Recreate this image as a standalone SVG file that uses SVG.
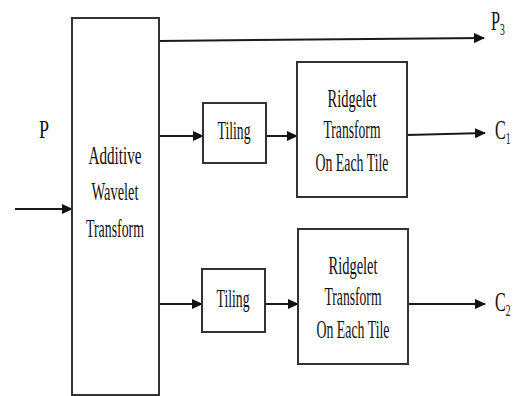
<svg xmlns="http://www.w3.org/2000/svg" width="513" height="396" viewBox="0 0 513 396">
<defs>
<marker id="ah" markerUnits="userSpaceOnUse" markerWidth="11" markerHeight="10" refX="10" refY="5" orient="auto">
<path d="M0,0 L11,5 L0,10 z" fill="#111"/>
</marker>
<style>
.box{fill:#fff;stroke:#333;stroke-width:2}
.wire{stroke:#1a1a1a;stroke-width:2;fill:none;marker-end:url(#ah)}
.t{font-family:"Liberation Serif","Times New Roman",serif;font-size:26px;fill:#111;text-anchor:middle}
.lbl{font-family:"Liberation Serif","Times New Roman",serif;font-size:27px;fill:#111}
.sub{font-size:16px}
</style>
</defs>
<rect width="513" height="396" fill="#fff"/>
<g id="connectors">
<line class="wire" x1="15" y1="209" x2="72" y2="209"/>
<line class="wire" x1="159" y1="41" x2="484" y2="38"/>
<line class="wire" x1="159" y1="136" x2="203" y2="136"/>
<line class="wire" x1="266" y1="136" x2="297" y2="136"/>
<line class="wire" x1="407" y1="135" x2="485" y2="133"/>
<line class="wire" x1="159" y1="304" x2="202" y2="304"/>
<line class="wire" x1="265" y1="304" x2="298" y2="304"/>
<line class="wire" x1="408" y1="304" x2="485" y2="304"/>
</g>
<g id="input-p">
<text class="t" x="44" y="138" font-size="31" textLength="10" lengthAdjust="spacingAndGlyphs">P</text>
</g>
<g id="awt">
<rect class="box" x="72" y="18" width="87" height="377"/>
<text class="t" x="115" y="164" textLength="53" lengthAdjust="spacingAndGlyphs">Additive</text>
<text class="t" x="115" y="200" textLength="47" lengthAdjust="spacingAndGlyphs">Wavelet</text>
<text class="t" x="115" y="237" textLength="58" lengthAdjust="spacingAndGlyphs">Transform</text>
</g>
<g id="tiling1">
<rect class="box" x="203" y="103" width="63" height="60"/>
<text class="t" x="234" y="139" textLength="33" lengthAdjust="spacingAndGlyphs">Tiling</text>
</g>
<g id="ridgelet1">
<rect class="box" x="297" y="62" width="110" height="135"/>
<text class="t" x="352" y="107" textLength="49" lengthAdjust="spacingAndGlyphs">Ridgelet</text>
<text class="t" x="352" y="138" textLength="57" lengthAdjust="spacingAndGlyphs">Transform</text>
<text class="t" x="352" y="171" textLength="73" lengthAdjust="spacingAndGlyphs">On Each Tile</text>
</g>
<g id="tiling2">
<rect class="box" x="202" y="269" width="63" height="63"/>
<text class="t" x="233" y="307" textLength="33" lengthAdjust="spacingAndGlyphs">Tiling</text>
</g>
<g id="ridgelet2">
<rect class="box" x="298" y="229" width="110" height="135"/>
<text class="t" x="353" y="274" textLength="49" lengthAdjust="spacingAndGlyphs">Ridgelet</text>
<text class="t" x="353" y="305" textLength="57" lengthAdjust="spacingAndGlyphs">Transform</text>
<text class="t" x="353" y="338" textLength="73" lengthAdjust="spacingAndGlyphs">On Each Tile</text>
</g>
<g id="out-p3" transform="translate(491,30) scale(0.6,1)">
<text class="lbl" x="0" y="0">P<tspan class="sub" dy="5">3</tspan></text>
</g>
<g id="out-c1" transform="translate(495,139) scale(0.6,1)">
<text class="lbl" x="0" y="0">C<tspan class="sub" dy="5">1</tspan></text>
</g>
<g id="out-c2" transform="translate(495,311) scale(0.6,1)">
<text class="lbl" x="0" y="0">C<tspan class="sub" dy="5">2</tspan></text>
</g>
</svg>
